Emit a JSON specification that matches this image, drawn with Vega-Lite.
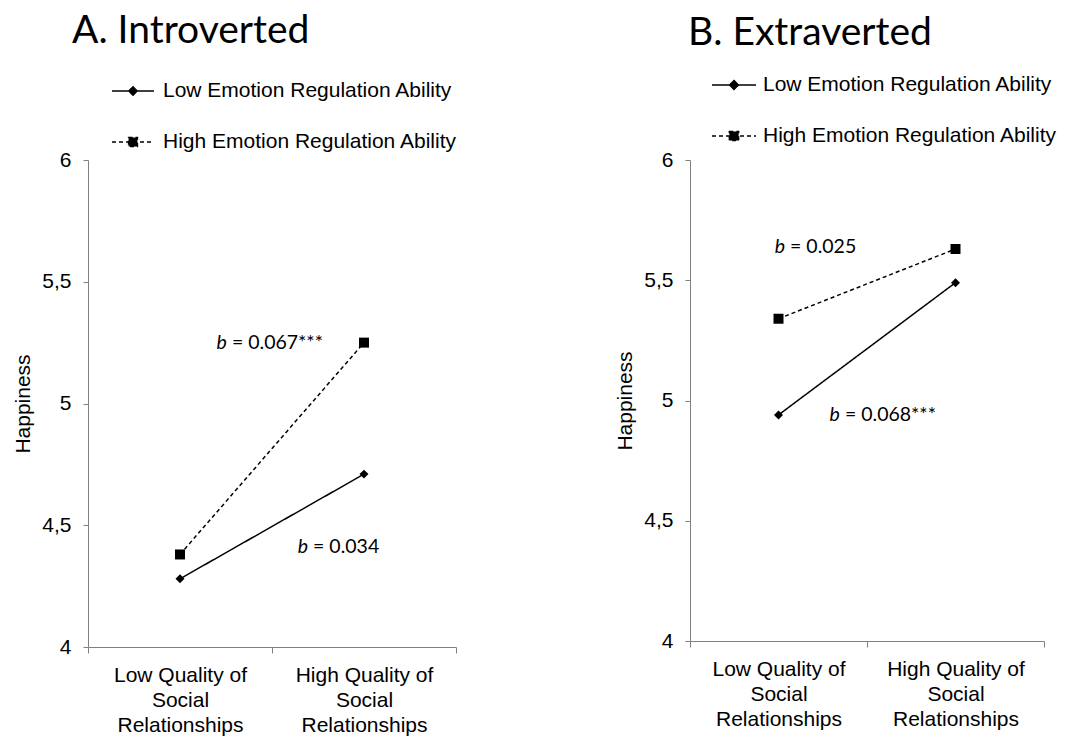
{
  "$schema": "https://vega.github.io/schema/vega-lite/v6.json",
  "padding": {"left": 12, "top": 12, "right": 5, "bottom": 5},
  "spacing": 156,
  "resolve": {"legend": {"strokeDash": "independent", "shape": "independent"}},
  "config": {
    "view": {"stroke": null},
    "font": "Liberation Sans",
    "axis": {"domainColor": "#808080", "tickColor": "#808080", "labelColor": "black", "labelFont": "Liberation Sans", "labelFontSize": 21, "titleFont": "Liberation Sans", "titleFontSize": 21, "titleFontWeight": "normal", "titleColor": "black", "grid": false, "domainWidth": 1, "tickWidth": 1}
  },
  "datasets": {
    "points": [
      {"panel": "A", "series": "Low Emotion Regulation Ability", "quality": 1, "happiness": 4.28},
      {"panel": "A", "series": "Low Emotion Regulation Ability", "quality": 2, "happiness": 4.71},
      {"panel": "A", "series": "High Emotion Regulation Ability", "quality": 1, "happiness": 4.38},
      {"panel": "A", "series": "High Emotion Regulation Ability", "quality": 2, "happiness": 5.25},
      {"panel": "B", "series": "Low Emotion Regulation Ability", "quality": 1, "happiness": 4.94},
      {"panel": "B", "series": "Low Emotion Regulation Ability", "quality": 2, "happiness": 5.49},
      {"panel": "B", "series": "High Emotion Regulation Ability", "quality": 1, "happiness": 5.34},
      {"panel": "B", "series": "High Emotion Regulation Ability", "quality": 2, "happiness": 5.63}
    ],
    "notes": [
      {"panel": "A", "quality": 1.255, "happiness": 5.25, "b": "b", "rest": "= 0.067***"},
      {"panel": "A", "quality": 1.696, "happiness": 4.41, "b": "b", "rest": "= 0.034"},
      {"panel": "B", "quality": 1.037, "happiness": 5.64, "b": "b", "rest": "= 0.025"},
      {"panel": "B", "quality": 1.347, "happiness": 4.94, "b": "b", "rest": "= 0.068***"}
    ]
  },
  "hconcat": [
    {
      "title": {"text": "A. Introverted", "anchor": "start", "frame": "group", "dx": -16, "fontSize": 39, "font": "Lato", "fontWeight": "normal", "color": "black", "offset": 18},
      "width": 368,
      "height": 487,
      "resolve": {"axis": {"x": "independent"}},
      "layer": [
        {
          "data": {"name": "points"},
          "transform": [{"filter": "datum.panel === 'A'"}],
          "mark": {"type": "line", "color": "black", "strokeWidth": 1.5},
          "encoding": {
            "x": {"field": "quality", "type": "quantitative", "scale": {"domain": [0.5, 2.5]}, "axis": {"values": [0.5, 1.5, 2.5], "labels": false, "title": null, "tickSize": 6, "orient": "bottom"}},
            "y": {"field": "happiness", "type": "quantitative", "scale": {"domain": [4, 6]}, "axis": {"values": [4, 4.5, 5, 5.5, 6], "title": "Happiness", "labelExpr": "replace(format(datum.value, '~g'), '.', ',')", "tickSize": 5, "labelPadding": 12, "titlePadding": 8}},
            "strokeDash": {
              "field": "series", "type": "nominal",
              "scale": {"domain": ["Low Emotion Regulation Ability", "High Emotion Regulation Ability"], "range": [[1, 0], [4, 3]]},
              "legend": {
                "title": null, "orient": "none", "legendX": 23, "legendY": -91, "direction": "vertical",
                "symbolSize": 1764, "symbolStrokeWidth": 1.5, "symbolStrokeColor": "black", "symbolFillColor": "black", "symbolOpacity": 1,
                "labelFont": "Liberation Sans", "labelFontSize": 21, "labelColor": "black", "labelOffset": 8, "rowPadding": 19, "labelLimit": 0,
                "encode": {"symbols": {"update": {"stroke": {"value": "black"}, "strokeWidth": {"value": 1.5}}}}
              }
            }
          }
        },
        {
          "data": {"name": "points"},
          "transform": [{"filter": "datum.panel === 'A'"}],
          "mark": {"type": "point", "filled": true, "fill": "black", "stroke": "black", "strokeWidth": 1.5, "opacity": 0},
          "encoding": {
            "x": {"field": "quality", "type": "quantitative", "scale": {"domain": [0.5, 2.5]}, "axis": null},
            "y": {"field": "happiness", "type": "quantitative", "scale": {"domain": [4, 6]}},
            "shape": {
              "field": "series", "type": "nominal",
              "scale": {"domain": ["Low Emotion Regulation Ability", "High Emotion Regulation Ability"], "range": ["M-1,0L1,0M-0.2,0L0,-0.2L0.2,0L0,0.2Z", "M-1,0L1,0M-0.21,-0.21L0.21,-0.21L0.21,0.21L-0.21,0.21Z"]},
              "legend": {
                "title": null, "orient": "none", "legendX": 23, "legendY": -91, "direction": "vertical",
                "symbolSize": 1764, "symbolStrokeWidth": 1.5, "symbolStrokeColor": "black", "symbolFillColor": "black", "symbolOpacity": 1,
                "labelFont": "Liberation Sans", "labelFontSize": 21, "labelColor": "black", "labelOffset": 8, "rowPadding": 19, "labelLimit": 0,
                "encode": {"symbols": {"update": {"stroke": {"value": "black"}, "strokeWidth": {"value": 1.5}}}}
              }
            }
          }
        },
        {
          "data": {"name": "points"},
          "transform": [{"filter": "datum.panel === 'A' && datum.series === 'Low Emotion Regulation Ability'"}],
          "mark": {"type": "point", "shape": "diamond", "size": 80, "filled": true, "color": "black", "opacity": 1},
          "encoding": {
            "x": {"field": "quality", "type": "quantitative", "scale": {"domain": [0.5, 2.5]}, "axis": {"values": [1, 2], "ticks": false, "domain": false, "title": null, "orient": "bottom", "labelExpr": "datum.value === 1 ? ['Low Quality of', 'Social', 'Relationships'] : ['High Quality of', 'Social', 'Relationships']", "labelLineHeight": 25, "labelPadding": 17, "labelBaseline": "top", "labelOverlap": false, "labelBound": false}},
            "y": {"field": "happiness", "type": "quantitative", "scale": {"domain": [4, 6]}}
          }
        },
        {
          "data": {"name": "points"},
          "transform": [{"filter": "datum.panel === 'A' && datum.series === 'High Emotion Regulation Ability'"}],
          "mark": {"type": "point", "shape": "square", "size": 100, "filled": true, "color": "black", "opacity": 1},
          "encoding": {
            "x": {"field": "quality", "type": "quantitative", "scale": {"domain": [0.5, 2.5]}, "axis": null},
            "y": {"field": "happiness", "type": "quantitative", "scale": {"domain": [4, 6]}}
          }
        },
        {
          "data": {"name": "notes"},
          "transform": [{"filter": "datum.panel === 'A'"}],
          "mark": {"type": "text", "align": "right", "baseline": "middle", "font": "Lato", "fontStyle": "italic", "fontSize": 19.5, "color": "black"},
          "encoding": {
            "x": {"field": "quality", "type": "quantitative", "scale": {"domain": [0.5, 2.5]}, "axis": null},
            "y": {"field": "happiness", "type": "quantitative", "scale": {"domain": [4, 6]}},
            "text": {"field": "b"}
          }
        },
        {
          "data": {"name": "notes"},
          "transform": [{"filter": "datum.panel === 'A'"}],
          "mark": {"type": "text", "align": "left", "dx": 5, "baseline": "middle", "font": "Lato", "fontSize": 19.5, "color": "black"},
          "encoding": {
            "x": {"field": "quality", "type": "quantitative", "scale": {"domain": [0.5, 2.5]}, "axis": null},
            "y": {"field": "happiness", "type": "quantitative", "scale": {"domain": [4, 6]}},
            "text": {"field": "rest"}
          }
        }
      ]
    },
    {
      "title": {"text": "B. Extraverted", "anchor": "start", "frame": "group", "dx": -2, "fontSize": 39, "font": "Lato", "fontWeight": "normal", "color": "black", "offset": 9},
      "width": 354,
      "height": 481,
      "resolve": {"axis": {"x": "independent"}},
      "layer": [
        {
          "data": {"name": "points"},
          "transform": [{"filter": "datum.panel === 'B'"}],
          "mark": {"type": "line", "color": "black", "strokeWidth": 1.5},
          "encoding": {
            "x": {"field": "quality", "type": "quantitative", "scale": {"domain": [0.5, 2.5]}, "axis": {"values": [0.5, 1.5, 2.5], "labels": false, "title": null, "tickSize": 6, "orient": "bottom"}},
            "y": {"field": "happiness", "type": "quantitative", "scale": {"domain": [4, 6]}, "axis": {"values": [4, 4.5, 5, 5.5, 6], "title": "Happiness", "labelExpr": "replace(format(datum.value, '~g'), '.', ',')", "tickSize": 5, "labelPadding": 12, "titlePadding": 8}},
            "strokeDash": {
              "field": "series", "type": "nominal",
              "scale": {"domain": ["Low Emotion Regulation Ability", "High Emotion Regulation Ability"], "range": [[1, 0], [4, 3]]},
              "legend": {
                "title": null, "orient": "none", "legendX": 21, "legendY": -98, "direction": "vertical",
                "symbolSize": 1936, "symbolStrokeWidth": 1.5, "symbolStrokeColor": "black", "symbolFillColor": "black", "symbolOpacity": 1,
                "labelFont": "Liberation Sans", "labelFontSize": 21, "labelColor": "black", "labelOffset": 6, "rowPadding": 18, "labelLimit": 0,
                "encode": {"symbols": {"update": {"stroke": {"value": "black"}, "strokeWidth": {"value": 1.5}}}}
              }
            }
          }
        },
        {
          "data": {"name": "points"},
          "transform": [{"filter": "datum.panel === 'B'"}],
          "mark": {"type": "point", "filled": true, "fill": "black", "stroke": "black", "strokeWidth": 1.5, "opacity": 0},
          "encoding": {
            "x": {"field": "quality", "type": "quantitative", "scale": {"domain": [0.5, 2.5]}, "axis": null},
            "y": {"field": "happiness", "type": "quantitative", "scale": {"domain": [4, 6]}},
            "shape": {
              "field": "series", "type": "nominal",
              "scale": {"domain": ["Low Emotion Regulation Ability", "High Emotion Regulation Ability"], "range": ["M-1,0L1,0M-0.19,0L0,-0.19L0.19,0L0,0.19Z", "M-1,0L1,0M-0.2,-0.2L0.2,-0.2L0.2,0.2L-0.2,0.2Z"]},
              "legend": {
                "title": null, "orient": "none", "legendX": 21, "legendY": -98, "direction": "vertical",
                "symbolSize": 1936, "symbolStrokeWidth": 1.5, "symbolStrokeColor": "black", "symbolFillColor": "black", "symbolOpacity": 1,
                "labelFont": "Liberation Sans", "labelFontSize": 21, "labelColor": "black", "labelOffset": 6, "rowPadding": 18, "labelLimit": 0,
                "encode": {"symbols": {"update": {"stroke": {"value": "black"}, "strokeWidth": {"value": 1.5}}}}
              }
            }
          }
        },
        {
          "data": {"name": "points"},
          "transform": [{"filter": "datum.panel === 'B' && datum.series === 'Low Emotion Regulation Ability'"}],
          "mark": {"type": "point", "shape": "diamond", "size": 80, "filled": true, "color": "black", "opacity": 1},
          "encoding": {
            "x": {"field": "quality", "type": "quantitative", "scale": {"domain": [0.5, 2.5]}, "axis": {"values": [1, 2], "ticks": false, "domain": false, "title": null, "orient": "bottom", "labelExpr": "datum.value === 1 ? ['Low Quality of', 'Social', 'Relationships'] : ['High Quality of', 'Social', 'Relationships']", "labelLineHeight": 25, "labelPadding": 17, "labelBaseline": "top", "labelOverlap": false, "labelBound": false}},
            "y": {"field": "happiness", "type": "quantitative", "scale": {"domain": [4, 6]}}
          }
        },
        {
          "data": {"name": "points"},
          "transform": [{"filter": "datum.panel === 'B' && datum.series === 'High Emotion Regulation Ability'"}],
          "mark": {"type": "point", "shape": "square", "size": 100, "filled": true, "color": "black", "opacity": 1},
          "encoding": {
            "x": {"field": "quality", "type": "quantitative", "scale": {"domain": [0.5, 2.5]}, "axis": null},
            "y": {"field": "happiness", "type": "quantitative", "scale": {"domain": [4, 6]}}
          }
        },
        {
          "data": {"name": "notes"},
          "transform": [{"filter": "datum.panel === 'B'"}],
          "mark": {"type": "text", "align": "right", "baseline": "middle", "font": "Lato", "fontStyle": "italic", "fontSize": 19.5, "color": "black"},
          "encoding": {
            "x": {"field": "quality", "type": "quantitative", "scale": {"domain": [0.5, 2.5]}, "axis": null},
            "y": {"field": "happiness", "type": "quantitative", "scale": {"domain": [4, 6]}},
            "text": {"field": "b"}
          }
        },
        {
          "data": {"name": "notes"},
          "transform": [{"filter": "datum.panel === 'B'"}],
          "mark": {"type": "text", "align": "left", "dx": 5, "baseline": "middle", "font": "Lato", "fontSize": 19.5, "color": "black"},
          "encoding": {
            "x": {"field": "quality", "type": "quantitative", "scale": {"domain": [0.5, 2.5]}, "axis": null},
            "y": {"field": "happiness", "type": "quantitative", "scale": {"domain": [4, 6]}},
            "text": {"field": "rest"}
          }
        }
      ]
    }
  ]
}
